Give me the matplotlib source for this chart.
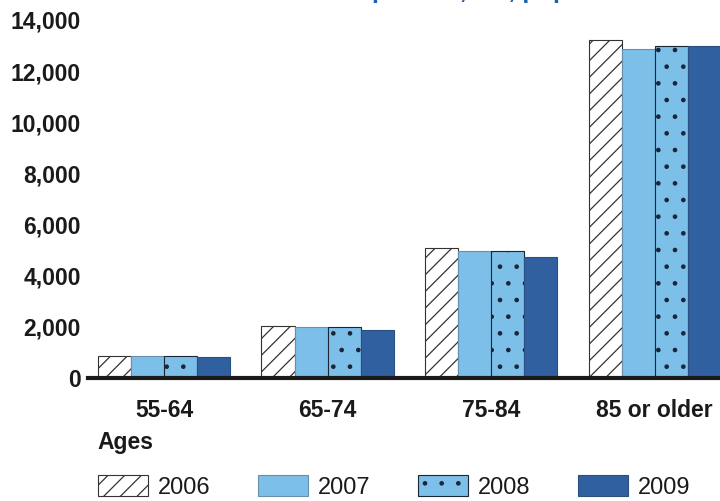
import numpy as np
import matplotlib
matplotlib.use("Agg")
import matplotlib.pyplot as plt
from matplotlib.patches import Patch

# values (rate per 100,000)
ages = ["55-64", "65-74", "75-84", "85 or older"]
years = ["2006", "2007", "2008", "2009"]
v2006 = [860, 2040, 5090, 13200]
v2007 = [850, 1990, 4980, 12870]
v2008 = [850, 1980, 4980, 12970]
v2009 = [840, 1880, 4740, 12970]
series = [v2006, v2007, v2008, v2009]

faces = ["white", "#7cbfe9", "#7cbfe9", "#30609f"]
hatches = ["//", None, ".", None]
edges = ["#333333", "#6a8fae", "#1c2436", "#2a4f80"]

plt.rcParams["font.family"] = ["Liberation Sans", "DejaVu Sans"]
plt.rcParams["hatch.linewidth"] = 0.9

fig = plt.figure(figsize=(7.2, 5.01), dpi=100)
ax = fig.add_axes([88 / 720, 1 - 378 / 501, 1 - 88 / 720, (378 - 20) / 501])

x = np.arange(len(ages))
w = 0.202
for i, vals in enumerate(series):
    ax.bar(x + (i - 1.5) * w, vals, w, color=faces[i], edgecolor=edges[i],
           hatch=hatches[i], linewidth=0.8, zorder=2)

ax.set_ylim(0, 14000)
ax.set_xlim(-0.465, 3.40)
ax.set_yticks(np.arange(0, 14001, 2000))
ax.set_yticklabels([f"{v:,}" for v in range(0, 14001, 2000)])
ax.set_xticks(x)
ax.set_xticklabels(ages)
ax.tick_params(length=0, labelsize=16.5, pad=5)
ax.tick_params(axis="x", pad=15)
for lab in ax.get_xticklabels() + ax.get_yticklabels():
    lab.set_fontweight("bold")
    lab.set_color("#1a1a1a")
for s in ["top", "right", "left"]:
    ax.spines[s].set_visible(False)
ax.spines["bottom"].set_linewidth(3)
ax.spines["bottom"].set_color("#1a1a1a")

fig.text(97 / 720, 1 - 442 / 501, "Ages", fontsize=16.5, fontweight="bold",
         color="#1a1a1a", va="center", ha="left")

# title sits mostly above the top edge; only descenders show
fig.text(372 / 720, 1 + 2 / 501, "per 100,000, population", fontsize=18,
         fontweight="bold", color="#1f5fb0", va="baseline", ha="left")

handles = [Patch(facecolor=faces[i], edgecolor=edges[i], hatch=hatches[i],
                 linewidth=0.8) for i in range(4)]
fig.legend(handles, years, loc="center left",
           bbox_to_anchor=(98 / 720, 1 - 487 / 501), ncol=4, frameon=False,
           fontsize=17, handlelength=2.1, handleheight=0.95,
           handletextpad=0.45, columnspacing=2.0, borderpad=0,
           borderaxespad=0, labelcolor="#1a1a1a")

fig.savefig("out.png", dpi=100)
